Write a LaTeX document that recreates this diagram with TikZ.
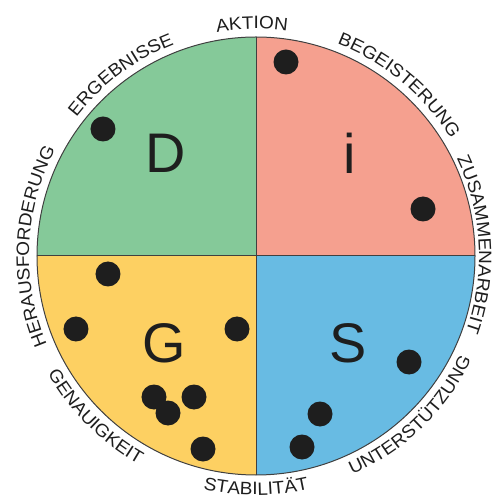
\documentclass[tikz,border=0pt]{standalone}
\usepackage{fontspec}
\setmainfont{Liberation Sans}
\newfontfamily\labfont[FakeStretch=1.06]{Liberation Sans}
\newfontfamily\bigletfont{Liberation Sans}
\usetikzlibrary{decorations.text}
\definecolor{qgreen}{RGB}{133,201,153}
\definecolor{qred}{RGB}{245,160,143}
\definecolor{qyellow}{RGB}{253,208,98}
\definecolor{qblue}{RGB}{104,187,227}
\definecolor{ink}{RGB}{30,30,30}
\tikzset{
  dot/.style={circle, fill=ink, draw=none, minimum size=25bp, inner sep=0pt},
  bigletter/.style={anchor=base, inner sep=0pt, text=ink, font=\bigletfont\fontsize{56}{56}\selectfont},
  toplabel/.style={decorate, decoration={text along path, text align=center, text color=ink, text={|\labfont\fontsize{18}{18}\selectfont|#1}}},
  botlabel/.style={decorate, decoration={text along path, text align=center, text color=ink, text={|\labfont\fontsize{18}{18}\selectfont|#1}}},
  rim/.style={draw=ink!85, line width=1bp},
}
\begin{document}
\begin{tikzpicture}[x=1bp,y=1bp]
\useasboundingbox (-256,-241) rectangle (239,256);
% quadrants
\fill[qgreen] (0,0) -- (90:219) arc[start angle=90,end angle=180,radius=219] -- cycle;
\fill[qred] (0,0) -- (0:219) arc[start angle=0,end angle=90,radius=219] -- cycle;
\fill[qyellow] (0,0) -- (180:219) arc[start angle=180,end angle=270,radius=219] -- cycle;
\fill[qblue] (0,0) -- (270:219) arc[start angle=270,end angle=360,radius=219] -- cycle;
\coordinate (ctr) at (0,0);
\coordinate (top) at (90:219);
\coordinate (bot) at (270:219);
\coordinate (lft) at (180:219);
\coordinate (rgt) at (0:219);
\draw[rim] (top) -- (bot);
\draw[rim] (lft) -- (rgt);
\draw[rim] (ctr) circle[radius=219];
% letters
\node[bigletter] (D) at (-90,83) {D};
\node[bigletter] (I) at (94,82) {i};
\node[bigletter] (G) at (-91.5,-106) {G};
\node[bigletter] (S) at (92.5,-106) {S};
% dots
\node[dot] (d1) at (-153,127) {};
\node[dot] (i1) at (30,194) {};
\node[dot] (i2) at (167,47) {};
\node[dot] (g1) at (-148,-18) {};
\node[dot] (g2) at (-180,-73) {};
\node[dot] (g3) at (-19,-73) {};
\node[dot] (g4) at (-102,-141) {};
\node[dot] (g5) at (-88,-157) {};
\node[dot] (g6) at (-62,-141) {};
\node[dot] (g7) at (-53,-193) {};
\node[dot] (s1) at (153,-106) {};
\node[dot] (s2) at (64,-158) {};
\node[dot] (s3) at (46,-191) {};
% labels, top (clockwise, baseline r=227)
\path[toplabel=AKTION] (131:227) arc[start angle=131,end angle=51,radius=227];
\path[toplabel=ERGEBNISSE] (166.7:227) arc[start angle=166.7,end angle=86.7,radius=227];
\path[toplabel=HERAUSFORDERUNG] (217.5:227) arc[start angle=217.5,end angle=137.5,radius=227];
\path[toplabel=BEGEISTERUNG] (90:227) arc[start angle=90,end angle=10,radius=227];
\path[toplabel=ZUSAMMENARBEIT] (43:223) arc[start angle=43,end angle=-37,radius=223];
% labels, bottom (counter-clockwise, baseline r=239)
\path[botlabel=GENAUIGKEIT] (185:239) arc[start angle=185,end angle=265,radius=239];
\path[botlabel=STABILITÄT] (230:239) arc[start angle=230,end angle=310,radius=239];
\path[botlabel=UNTERSTÜTZUNG] (274:239) arc[start angle=274,end angle=354,radius=239];
\end{tikzpicture}
\end{document}
